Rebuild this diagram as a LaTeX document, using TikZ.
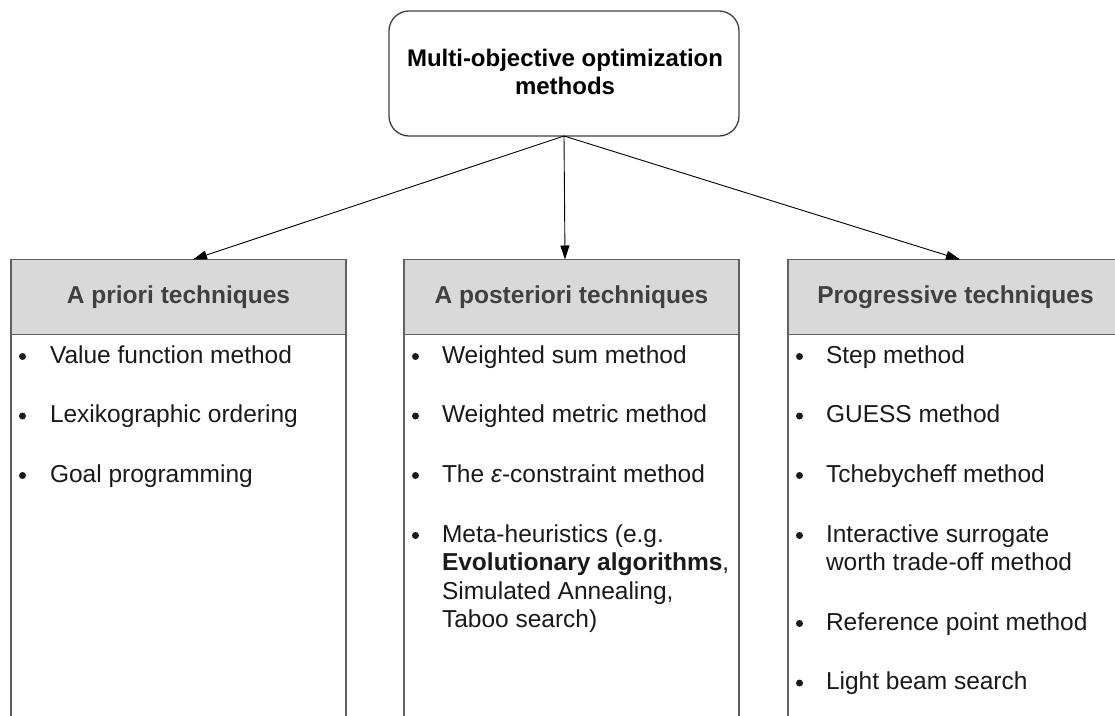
\documentclass[tikz,border=0pt]{standalone}
\usepackage{fontspec}
\setmainfont{Liberation Sans}
\usetikzlibrary{arrows.meta}
\definecolor{hdrfill}{HTML}{D9D9D9}
\definecolor{boxline}{HTML}{606060}
\definecolor{topline}{HTML}{404040}
\definecolor{hdrtext}{HTML}{404040}
\definecolor{itemtext}{HTML}{1A1A1A}
\begin{document}
\begin{tikzpicture}[x=1pt,y=-1pt,
  every node/.style={inner sep=0pt, outer sep=0pt},
  txt/.style={font=\fontsize{24.5}{28}\selectfont, text=itemtext, anchor=base west},
  bul/.style={circle, fill=itemtext, minimum size=7pt, yshift=6.5pt},
  hdrbox/.style={draw=boxline, line width=1.5pt, fill=hdrfill, minimum width=335pt, minimum height=75pt, anchor=north west},
  bodybox/.style={draw=boxline, line width=1.5pt, fill=white, minimum width=335pt, minimum height=440pt, anchor=north west},
  hdrtxt/.style={font=\fontsize{24.5}{28}\selectfont\bfseries, text=hdrtext, anchor=base},
  ttltxt/.style={font=\fontsize{24}{28}\selectfont\bfseries, text=black, anchor=base},
  topbox/.style={draw=topline, line width=1.3pt, rounded corners=20pt, minimum width=350pt, minimum height=125pt, fill=white},
  arr/.style={-{Triangle[length=14pt,width=9pt]}, line width=0.9pt, black},
]
\useasboundingbox (0,0) rectangle (1115,715);
\clip (0,0) rectangle (1115,715);

% top box
\node[topbox] (top) at (564,73.5) {};
\node[ttltxt] (t1) at (565,66) {Multi-objective optimization};
\node[ttltxt] (t2) at (565,94) {methods};

% column bodies
\node[bodybox] (b1) at (11,334.5) {};
\node[bodybox] (b2) at (404,334.5) {};
\node[bodybox] (b3) at (788,334.5) {};

% headers
\node[hdrbox] (h1) at (11,259.5) {};
\node[hdrbox] (h2) at (404,259.5) {};
\node[hdrbox] (h3) at (788,259.5) {};
\node[hdrtxt] (h1t) at (178.5,303) {A priori techniques};
\node[hdrtxt] (h2t) at (571.5,303) {A posteriori techniques};
\node[hdrtxt] (h3t) at (955.5,303) {Progressive techniques};

% arrows
\draw[arr] (top.south) -- ([xshift=14.5pt]h1.north);
\draw[arr] (top.south) -- ([xshift=-6.5pt]h2.north);
\draw[arr] (top.south) -- ([xshift=4.5pt]h3.north);

% left column
\node[bul] (l1b) at (22.5,363) {};
\node[txt] (l1) at (50,363) {Value function method};
\node[bul] (l2b) at (22.5,422.5) {};
\node[txt] (l2) at (50,422.5) {Lexikographic ordering};
\node[bul] (l3b) at (22.5,482) {};
\node[txt] (l3) at (50,482) {Goal programming};

% middle column
\node[bul] (m1b) at (415.5,363) {};
\node[txt] (m1) at (442,363) {Weighted sum method};
\node[bul] (m2b) at (415.5,422.5) {};
\node[txt] (m2) at (442,422.5) {Weighted metric method};
\node[bul] (m3b) at (415.5,482) {};
\node[txt] (m3) at (442,482) {The \textit{ε}-constraint method};
\node[bul] (m4b) at (415.5,542) {};
\node[txt] (m4a) at (442,542) {Meta-heuristics (e.g.};
\node[txt] (m4c) at (442,570.5) {{\bfseries Evolutionary algorithms},};
\node[txt] (m4d) at (442,599) {Simulated Annealing,};
\node[txt] (m4e) at (442,627.5) {Taboo search)};

% right column
\node[bul] (r1b) at (799.5,363) {};
\node[txt] (r1) at (826,363) {Step method};
\node[bul] (r2b) at (799.5,422.5) {};
\node[txt] (r2) at (826,422.5) {GUESS method};
\node[bul] (r3b) at (799.5,482) {};
\node[txt] (r3) at (826,482) {Tchebycheff method};
\node[bul] (r4b) at (799.5,542) {};
\node[txt] (r4a) at (826,542) {Interactive surrogate};
\node[txt] (r4c) at (826,570.5) {worth trade-off method};
\node[bul] (r5b) at (799.5,630) {};
\node[txt] (r5) at (826,630) {Reference point method};
\node[bul] (r6b) at (799.5,689.5) {};
\node[txt] (r6) at (826,689.5) {Light beam search};
\end{tikzpicture}
\end{document}
